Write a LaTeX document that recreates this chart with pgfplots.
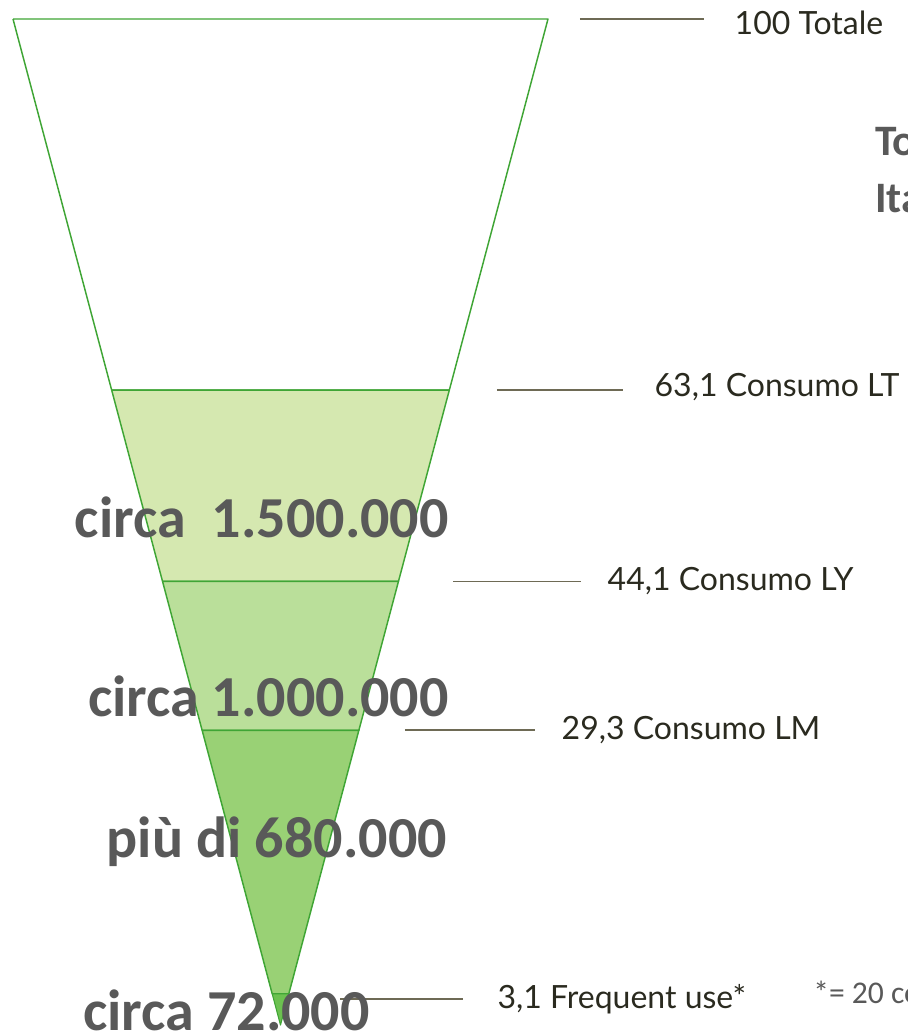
\documentclass[border=0pt]{standalone}
\usepackage{pgfplots}
\pgfplotsset{compat=1.18}
\usepackage{fontspec}
\setmainfont{Lato}
\newfontfamily\calfont{Carlito}
\definecolor{edge}{HTML}{3FA535}
\definecolor{fA}{HTML}{D5E8B0}
\definecolor{fB}{HTML}{BADF9A}
\definecolor{fC}{HTML}{99D175}
\definecolor{fD}{HTML}{6CC150}
\definecolor{lead}{HTML}{6E6A55}
\definecolor{lab}{HTML}{2A2A1F}
\definecolor{big}{HTML}{595959}
\begin{document}
\begin{tikzpicture}
\begin{axis}[
  width=681pt, height=776.25pt, scale only axis, hide axis, clip=false,
  xmin=-104.86, xmax=234.58, ymin=-0.99, ymax=101.89]
% funnel bands (half-width = value)
\addplot[fill=white, draw=edge, line width=1.1pt, line join=round]
  coordinates {(-100,100) (100,100) (63.1,63.1) (-63.1,63.1) (-100,100)};
\addplot[fill=fA, draw=edge, line width=1.1pt, line join=round]
  coordinates {(-63.1,63.1) (63.1,63.1) (44.1,44.1) (-44.1,44.1) (-63.1,63.1)};
\addplot[fill=fB, draw=edge, line width=1.1pt, line join=round]
  coordinates {(-44.1,44.1) (44.1,44.1) (29.3,29.3) (-29.3,29.3) (-44.1,44.1)};
\addplot[fill=fC, draw=edge, line width=1.1pt, line join=round]
  coordinates {(-29.3,29.3) (29.3,29.3) (3.1,3.1) (-3.1,3.1) (-29.3,29.3)};
\addplot[fill=fD, draw=edge, line width=0.8pt, line join=round]
  coordinates {(-3.1,3.1) (3.1,3.1) (0,0) (-3.1,3.1)};
% leader lines
\addplot[lead, line width=1.3pt] coordinates {(111.96,100) (158.32,100)};
\addplot[lead, line width=1.3pt] coordinates {(80.93,63.1) (128.04,63.1)};
\addplot[lead, line width=1.3pt] coordinates {(64.49,44.1) (112.34,44.1)};
\addplot[lead, line width=1.3pt] coordinates {(46.54,29.3) (95.14,29.3)};
\addplot[lead, line width=1.3pt] coordinates {(22.24,2.6) (68.22,2.6)};
% labels
\node[anchor=west, text=lab, font=\fontsize{24}{28}\selectfont] at (axis cs:168.04,99.6) {100 Totale};
\node[anchor=west, text=lab, font=\fontsize{24}{28}\selectfont] at (axis cs:138.1,63.4) {63,1 Consumo LT};
\node[anchor=west, text=lab, font=\fontsize{24}{28}\selectfont] at (axis cs:120.56,44.1) {44,1 Consumo LY};
\node[anchor=west, text=lab, font=\fontsize{24}{28}\selectfont] at (axis cs:103.36,29.3) {29,3 Consumo LM};
\node[anchor=west, text=lab, font=\fontsize{24}{28}\selectfont] at (axis cs:79.4,2.6) {3,1 Frequent use*};
% big grey figures
\node[anchor=base east, inner sep=0pt, text=big, font=\calfont\bfseries\fontsize{43.5}{50}\selectfont] at (axis cs:63,48.51) {circa\ \ 1.500.000};
\node[anchor=base east, inner sep=0pt, text=big, font=\calfont\bfseries\fontsize{43.5}{50}\selectfont] at (axis cs:63,30.62) {circa 1.000.000};
\node[anchor=base east, inner sep=0pt, text=big, font=\calfont\bfseries\fontsize{43.5}{50}\selectfont] at (axis cs:62.24,16.70) {più di 680.000};
\node[anchor=base west, inner sep=0pt, text=big, font=\calfont\bfseries\fontsize{43.5}{50}\selectfont] at (axis cs:-73.83,-0.5) {circa 72.000};
% cut-off side texts
\node[anchor=base west, inner sep=0pt, text=big, font=\calfont\bfseries\fontsize{32.6}{40}\selectfont] at (axis cs:222.2,86.48) {Totale};
\node[anchor=base west, inner sep=0pt, text=big, font=\calfont\bfseries\fontsize{32.6}{40}\selectfont] at (axis cs:222.2,80.72) {Italia};
\node[anchor=base west, inner sep=0pt, text=big, font=\calfont\fontsize{23.7}{28}\selectfont] at (axis cs:199.07,2.19) {*= 20 consumi};
\coordinate (bl) at (rel axis cs:0,0);
\coordinate (tr) at (rel axis cs:1,1);
\end{axis}
\pgfresetboundingbox
\path[use as bounding box] (bl) rectangle (tr);
\end{tikzpicture}
\end{document}
